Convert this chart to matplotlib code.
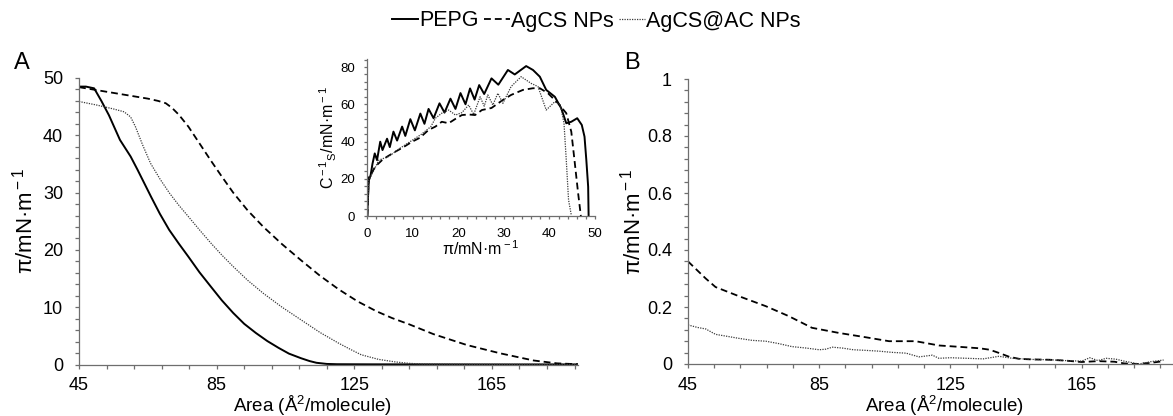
import numpy as np
import matplotlib
matplotlib.use("Agg")
import matplotlib.pyplot as plt
from matplotlib.ticker import MultipleLocator, FixedLocator

# ===============================
# Data
# ===============================
# Panel A - isotherms (area in A^2/molecule, surface pressure in mN/m)
pepg_area = [45, 47, 49.4, 51.5, 53.7, 56.9, 60, 62, 64, 66, 68.5, 71.2, 74, 76.8,
             80, 83.3, 86.5, 89.8, 93, 96.4, 99.7, 103, 106, 109.5, 112, 114, 117,
             120, 130, 150, 170, 190]
pepg_pi = [48.5, 48.5, 48.2, 46.0, 43.5, 39.2, 36.3, 34.0, 31.6, 29.2, 26.3, 23.5,
           21.1, 18.8, 16.1, 13.6, 11.2, 9.0, 7.1, 5.5, 4.1, 2.9, 1.9, 1.1, 0.6,
           0.3, 0.1, 0.05, 0.03, 0.02, 0.01, 0.01]

agcs_area = [45, 50, 55, 60, 65, 68, 70.2, 72, 74, 76.8, 80, 83.3, 86.5, 89.8, 94,
             98.6, 104, 109.5, 115, 120.5, 126, 131.4, 136, 141, 148, 157.7, 167.4,
             177.1, 183.9, 190]
agcs_pi = [48.4, 47.9, 47.4, 46.9, 46.4, 46.0, 45.6, 44.8, 43.6, 41.5, 38.6, 35.6,
           32.8, 30.0, 26.9, 24.0, 21.0, 18.2, 15.5, 13.1, 11.0, 9.3, 8.1, 7.0, 5.3,
           3.4, 1.95, 0.7, 0.2, 0.05]

agcsac_area = [45, 50, 55, 58.1, 60, 61.4, 63.5, 65.8, 68.5, 71.3, 74, 76.8, 80, 83.3,
               86.5, 89.8, 94, 98.6, 104, 109.5, 115, 120.5, 124, 127, 132, 136.9,
               141, 145, 160, 190]
agcsac_pi = [45.9, 45.3, 44.6, 44.1, 43.2, 41.5, 38.3, 35.1, 32.4, 29.9, 27.8, 25.8,
             23.5, 21.2, 19.1, 17.1, 14.7, 12.4, 10.0, 7.8, 5.6, 3.7, 2.6, 1.7, 0.9,
             0.45, 0.2, 0.08, 0.03, 0.02]

# Inset - compressibility modulus vs surface pressure
pepg_in_pi = [0.05, 0.2, 0.4, 0.8, 1.2, 1.7, 2.2, 2.9, 3.4, 4.4, 5.0, 5.8, 6.6, 7.7,
              8.4, 9.5, 10.5, 11.7, 12.6, 13.5, 14.6, 15.9, 17.0, 18.3, 19.4, 20.5,
              21.6, 22.6, 23.6, 24.6, 25.7, 27.3, 28.8, 30.9, 32.4, 34.9, 36.4, 37.9,
              39.3, 41.2, 42.6, 43.7, 44.8, 46.1, 47.1, 47.7, 48.1, 48.5, 48.6]
pepg_in_c = [0, 9, 19, 22, 28, 33.6, 30, 39.9, 35.4, 41.5, 37, 45.3, 40.5, 48, 43,
             52, 46, 55, 49.5, 57.5, 52.5, 60.5, 55.5, 63, 57.5, 66, 60, 68.5, 62.5,
             70.3, 65.5, 73.9, 70.5, 78.4, 76, 80.5, 78.4, 74.8, 67.7, 64, 57.8, 49.8,
             50.6, 52.5, 48.9, 42.6, 30, 15.7, 0]

agcs_in_pi = [0.1, 0.37, 1.0, 1.8, 3.3, 4.5, 6.2, 8, 9.9, 11.6, 13.5, 15, 16.4, 17.9,
              19.3, 20.8, 22.3, 23.7, 25.2, 27.3, 29.8, 31.6, 34.2, 36.4, 37.9, 39.7,
              41.9, 43.7, 44.8, 45.5, 46.3, 46.9]
agcs_in_c = [0, 21, 23, 26.5, 30, 32, 34.5, 37, 39.9, 42, 46.2, 48, 50.6, 49.8, 52,
             54.2, 54.5, 54.2, 56.9, 58, 62.3, 65, 67.7, 68.6, 68.6, 65.9, 60.5, 55.2,
             45.3, 30, 12.2, 0]

agcsac_in_pi = [0.1, 0.37, 1.0, 2.6, 4.8, 7, 9.5, 12, 14, 15, 16.4, 17.9, 19.4, 20.8,
                22.3, 23.4, 24.8, 25.7, 26.5, 27.6, 28.7, 29.8, 31.6, 33.8, 36, 37.5,
                39.3, 41.2, 42.4, 43.2, 43.7, 44.2, 44.8]
agcsac_in_c = [0, 19, 22, 30, 32, 36, 40, 44, 48, 52.5, 55.2, 56.9, 54.2, 55.5, 59.6,
               54.5, 64, 59, 65, 59.6, 65.9, 60.5, 69.5, 74.8, 71.2, 69.5, 56.9, 61.4,
               59.6, 49.8, 30, 8.6, 0.5]

# Panel B - zoom on low pressures
agcs_b_area = [45, 50.4, 53.4, 60.5, 68.7, 75.7, 82.8, 91, 99.1, 106.3, 114.4, 121.5,
               128, 134, 137, 140, 143, 146, 150, 155, 160, 165, 170, 175, 178, 182,
               186, 190]
agcs_b_pi = [0.36, 0.30, 0.27, 0.238, 0.203, 0.168, 0.127, 0.109, 0.094, 0.08, 0.08,
             0.065, 0.06, 0.055, 0.05, 0.038, 0.025, 0.018, 0.016, 0.015, 0.012, 0.007,
             0.01, 0.008, 0.002, 0.0, 0.004, 0.01]

agcsac_b_area = [45, 48, 50.4, 53.4, 57, 60.5, 64.5, 68.7, 72.5, 76.7, 81, 85, 87, 89,
                 92, 95.4, 99, 103.3, 107, 111.5, 115.4, 117.5, 119.5, 121.5, 125, 130,
                 135, 139.8, 143.9, 150, 155, 160, 165, 167.5, 170, 172.5, 175.4, 178,
                 182.5, 186, 190]
agcsac_b_pi = [0.137, 0.128, 0.123, 0.104, 0.097, 0.09, 0.083, 0.080, 0.072, 0.061,
               0.056, 0.05, 0.052, 0.059, 0.056, 0.05, 0.048, 0.045, 0.041, 0.038,
               0.025, 0.028, 0.031, 0.02, 0.022, 0.02, 0.018, 0.027, 0.02, 0.016, 0.015,
               0.012, 0.01, 0.022, 0.012, 0.02, 0.017, 0.01, 0.0, 0.008, 0.014]

labels = ["PEPG", "AgCS NPs", "AgCS@AC NPs"]
area_ticks = [45, 85, 125, 165]
b_yticks = [0, 0.2, 0.4, 0.6, 0.8, 1.0]
b_yticklabels = ["0", "0.2", "0.4", "0.6", "0.8", "1"]

# ===============================
# Style
# ===============================
plt.rcParams["font.family"] = ["Liberation Sans", "DejaVu Sans"]
plt.rcParams["mathtext.fontset"] = "custom"
plt.rcParams["mathtext.rm"] = "Liberation Sans"
plt.rcParams["mathtext.it"] = "Liberation Sans:italic"
plt.rcParams["mathtext.bf"] = "Liberation Sans:bold"

AX_COL = "#6e6e6e"
solid = dict(color="black", lw=1.4, linestyle="-")
dashed = dict(color="black", lw=1.3, dashes=(3.8, 2.2))
dotted = dict(color="#3a3a3a", lw=0.9, linestyle=(0, (1, 1)))

W, H = 1173, 416
fig = plt.figure(figsize=(W / 100, H / 100), dpi=100)


def style_axes(ax, tick_size, xpad, ypad, tlen):
    for s in ["top", "right"]:
        ax.spines[s].set_visible(False)
    for s in ["left", "bottom"]:
        ax.spines[s].set_color(AX_COL)
        ax.spines[s].set_linewidth(0.9)
    ax.tick_params(which="both", direction="out", color=AX_COL, width=0.9,
                   length=tlen, labelsize=tick_size, labelcolor="black")
    ax.tick_params(axis="x", which="major", pad=xpad)
    ax.tick_params(axis="y", which="major", pad=ypad)


pi_label = "π/mN·m$^{\\rm -1}$"
area_label = "Area (Å$^{\\rm 2}$/molecule)"

# -------------------------------
# Panel A
# -------------------------------
axA = fig.add_axes([79 / W, 1 - 364.5 / H, 499 / W, 286.5 / H])
lA1, = axA.plot(pepg_area, pepg_pi, **solid)
lA2, = axA.plot(agcs_area, agcs_pi, **dashed)
lA3, = axA.plot(agcsac_area, agcsac_pi, **dotted)
axA.set_xlim(45, 190)
axA.set_ylim(0, 50)
axA.xaxis.set_major_locator(FixedLocator(area_ticks))
axA.xaxis.set_minor_locator(FixedLocator(np.arange(45, 191, 8)))
axA.yaxis.set_major_locator(MultipleLocator(10))
axA.yaxis.set_minor_locator(MultipleLocator(2))
style_axes(axA, 13, 6, 8.5, 3)
axA.set_xlabel(area_label, fontsize=13.5)
axA.xaxis.label.set_va("baseline")
axA.xaxis.set_label_coords((312 - 79) / 499, (364.5 - 412) / 286.5)
axA.set_ylabel(pi_label, fontsize=16)
axA.yaxis.set_label_coords(-0.083, 0.5)

# Inset
axI = fig.add_axes([367 / W, 1 - 216 / H, 228 / W, 157 / H])
axI.plot(pepg_in_pi, pepg_in_c, **solid)
axI.plot(agcs_in_pi, agcs_in_c, **dashed)
axI.plot(agcsac_in_pi, agcsac_in_c, **dotted)
axI.set_xlim(0, 50)
axI.set_ylim(0, 84.3)
axI.xaxis.set_major_locator(MultipleLocator(10))
axI.xaxis.set_minor_locator(MultipleLocator(2))
axI.yaxis.set_major_locator(MultipleLocator(20))
axI.yaxis.set_minor_locator(MultipleLocator(4))
style_axes(axI, 9.5, 6, 6, 2.4)
axI.set_xlabel(pi_label, fontsize=11.5, labelpad=0)
axI.set_ylabel("C$^{\\rm -1}$$_{\\rm S}$/mN·m$^{\\rm -1}$", fontsize=11.5, labelpad=1)

# -------------------------------
# Panel B (right part runs past the picture edge)
# -------------------------------
axB = fig.add_axes([688 / W, 1 - 364 / H, (1180 - 688) / W, 285 / H])
axB.plot(agcs_b_area, agcs_b_pi, **dashed)
axB.plot(agcsac_b_area, agcsac_b_pi, **dotted)
axB.set_xlim(45, 195)
axB.set_ylim(0, 1)
axB.xaxis.set_major_locator(FixedLocator(area_ticks))
axB.xaxis.set_minor_locator(FixedLocator(np.arange(45, 196, 8)))
axB.set_yticks(b_yticks)
axB.set_yticklabels(b_yticklabels)
axB.yaxis.set_minor_locator(MultipleLocator(0.04))
style_axes(axB, 13, 6, 8.5, 3)
axB.set_xlabel(area_label, fontsize=13.5)
axB.xaxis.label.set_va("baseline")
axB.xaxis.set_label_coords((944 - 688) / 492, (364 - 412) / 285)
axB.set_ylabel(pi_label, fontsize=16)
axB.yaxis.set_label_coords(-0.087, 0.5)

# Panel letters
fig.text(22 / W, 1 - 63 / H, "A", fontsize=17, ha="center", va="center")
fig.text(632 / W, 1 - 63 / H, "B", fontsize=17, ha="center", va="center")

# Legend across the top
fig.legend([lA1, lA2, lA3], labels, loc="center", ncol=3,
           bbox_to_anchor=(596 / W, 1 - 21 / H), frameon=False, fontsize=15.5,
           handlelength=1.2, handletextpad=0.05, columnspacing=0.25,
           borderpad=0, borderaxespad=0)

fig.savefig("out.png", dpi=100)
